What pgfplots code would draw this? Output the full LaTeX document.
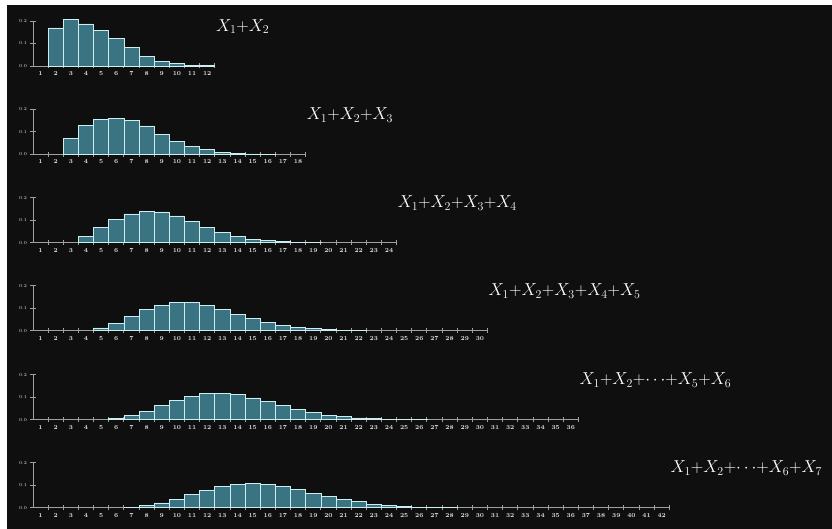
\documentclass[border=0pt]{standalone}
\usepackage{pgfplots}
\pgfplotsset{compat=1.18}
\definecolor{bg}{RGB}{14,15,14}
\definecolor{axgray}{RGB}{160,160,160}
\definecolor{lbl}{RGB}{230,230,230}
\definecolor{barfill}{RGB}{58,116,130}
\definecolor{barline}{RGB}{205,238,240}
\pgfplotsset{
  panel/.style={
    x=15.15pt, y=225pt, xmin=0.5, ymin=0, ymax=0.2,
    anchor=south west,
    axis lines=left,
    axis line style={-, draw=axgray, line width=0.9pt},
    clip=false,
    tick align=center,
    ytick={0,0.1,0.2}, yticklabels={0.0,0.1,0.2},
    yticklabel style={font=\fontsize{4.5}{5}\selectfont\boldmath, text=lbl},
    major tick length=5pt,
    minor tick length=5pt,
    major x tick style={draw=none},
    minor x tick style={draw=axgray, line width=0.9pt},
    ytick style={draw=axgray, line width=0.9pt},
    xticklabel style={font=\fontsize{6}{7}\selectfont\boldmath, text=lbl, yshift=0.5pt},
  },
  bars/.style={ybar, bar width=15.15pt, fill=barfill, draw=barline, line width=0.7pt},
}
\tikzset{ttl/.style={anchor=base west, text=white, font=\fontsize{16.5}{18}\selectfont, inner sep=0pt, xshift=1pt}}
\begin{document}
\begin{tikzpicture}
\useasboundingbox (0pt,0pt) rectangle (832pt,529pt);
\fill[white] (0pt,0pt) rectangle (832pt,529pt);
\fill[bg] (7pt,0pt) rectangle (832pt,524pt);
\clip (0pt,0pt) rectangle (832pt,529pt);

% Panel 1
\begin{axis}[panel, at={(33pt,463pt)}, xmax=12.5, xtick={1,...,12}, minor xtick={1.5,2.5,...,12.5}]
\addplot[bars] coordinates {(2,0.169)(3,0.206)(4,0.187)(5,0.157)(6,0.121)(7,0.084)(8,0.043)(9,0.021)(10,0.010)(11,0.004)(12,0.001)};
\node[ttl] at (axis cs:12.5,0.155) {$X_1{+}X_2$};
\end{axis}

% Panel 2
\begin{axis}[panel, at={(33pt,374.7pt)}, xmax=18.5, xtick={1,...,18}, minor xtick={1.5,2.5,...,18.5}]
\addplot[bars] coordinates {(3,0.070)(4,0.127)(5,0.154)(6,0.160)(7,0.150)(8,0.126)(9,0.090)(10,0.059)(11,0.036)(12,0.021)(13,0.010)(14,0.004)(15,0.0015)(16,0.0005)};
\node[ttl] at (axis cs:18.5,0.155) {$X_1{+}X_2{+}X_3$};
\end{axis}

% Panel 3
\begin{axis}[panel, at={(33pt,286.3pt)}, xmax=24.5, xtick={1,...,24}, minor xtick={1.5,2.5,...,24.5}]
\addplot[bars] coordinates {(4,0.027)(5,0.069)(6,0.104)(7,0.128)(8,0.140)(9,0.137)(10,0.119)(11,0.093)(12,0.069)(13,0.046)(14,0.029)(15,0.016)(16,0.009)(17,0.004)(18,0.002)(19,0.001)};
\node[ttl] at (axis cs:24.5,0.155) {$X_1{+}X_2{+}X_3{+}X_4$};
\end{axis}

% Panel 4
\begin{axis}[panel, at={(33pt,198.3pt)}, xmax=30.5, xtick={1,...,30}, minor xtick={1.5,2.5,...,30.5}]
\addplot[bars] coordinates {(5,0.012)(6,0.033)(7,0.064)(8,0.093)(9,0.114)(10,0.126)(11,0.126)(12,0.114)(13,0.096)(14,0.074)(15,0.055)(16,0.037)(17,0.024)(18,0.015)(19,0.009)(20,0.004)(21,0.002)(22,0.001)};
\node[ttl] at (axis cs:30.5,0.155) {$X_1{+}X_2{+}X_3{+}X_4{+}X_5$};
\end{axis}

% Panel 5
\begin{axis}[panel, at={(33pt,109.3pt)}, xmax=36.5, xtick={1,...,36}, minor xtick={1.5,2.5,...,36.5}]
\addplot[bars] coordinates {(6,0.005)(7,0.019)(8,0.038)(9,0.062)(10,0.085)(11,0.104)(12,0.116)(13,0.118)(14,0.112)(15,0.097)(16,0.081)(17,0.063)(18,0.045)(19,0.031)(20,0.020)(21,0.013)(22,0.008)(23,0.005)(24,0.003)(25,0.0015)(26,0.0007)};
\node[ttl] at (axis cs:36.5,0.155) {$X_1{+}X_2{+}{\cdots}{+}X_5{+}X_6$};
\end{axis}

% Panel 6
\begin{axis}[panel, at={(33pt,21.3pt)}, xmax=42.5, xtick={1,...,42}, minor xtick={1.5,2.5,...,42.5}]
\addplot[bars] coordinates {(7,0.002)(8,0.010)(9,0.021)(10,0.037)(11,0.058)(12,0.077)(13,0.095)(14,0.105)(15,0.108)(16,0.104)(17,0.095)(18,0.081)(19,0.065)(20,0.050)(21,0.037)(22,0.027)(23,0.016)(24,0.010)(25,0.006)(26,0.003)(27,0.0015)(28,0.0005)};
\node[ttl] at (axis cs:42.5,0.155) {$X_1{+}X_2{+}{\cdots}{+}X_6{+}X_7$};
\end{axis}
\end{tikzpicture}
\end{document}
